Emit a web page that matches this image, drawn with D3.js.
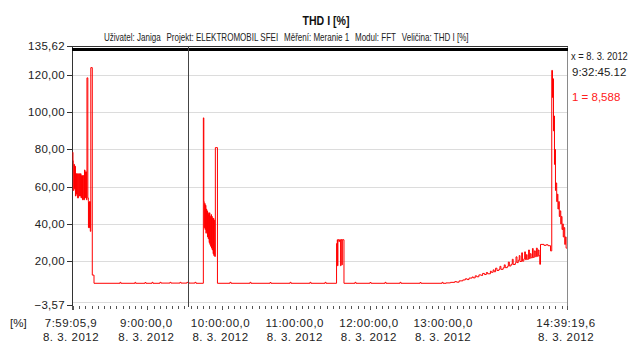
<!DOCTYPE html>
<html><head><meta charset="utf-8">
<script src="https://cdn.jsdelivr.net/npm/d3@7"></script>
<style>
html,body{margin:0;padding:0;background:#fff;}
svg{display:block;font-family:"Liberation Sans",Arial,sans-serif;}
</style></head><body>
<svg id="chart" width="629" height="342"></svg>
<script>
// ---- chart texts ----
const chartTitle = "THD I [%]";
const infoParts = ["Uživatel: Janiga", "Projekt: ELEKTROMOBIL SFEI", "Měření: Meranie 1", "Modul: FFT", "Veličina: THD I [%]"];
const unitLabel = "[%]";

// ---- time range of the record (8. 3. 2012) ----
const recordStart = new Date(2012, 2, 8, 7, 59, 5, 900);
const recordEnd = new Date(2012, 2, 8, 14, 39, 19, 600);
const hourTicks = [9, 10, 11, 12, 13];

// ---- value axis ----
const yMin = -3.57, yMax = 135.62;
const yTicks = [120, 100, 80, 60, 40, 20];

// ---- cursor readout ----
const cursorTime = new Date(2012, 2, 8, 9, 32, 45, 120);
const cursorX = "x = 8. 3. 2012";
const cursorClock = "9:32:45.12";
const cursorValue = 8.588;

// ---- THD I samples: [minutes since record start, THD %] ----
const startBurst = [
  [0.5,78.5],[0.8,74],[1.05,58],[1.6,72],[2.0,59],[2.4,71],[2.8,55],[3.2,67],[3.6,56],[4.0,67],
  [4.4,54],[5.3,67],[6.1,55],[6.9,67],[7.3,54],[7.7,66],[8.5,53],[8.9,66],[9.4,53],[10.1,69],
  [10.5,54],[10.9,68],[11.7,53],[12.1,118.5],[12.8,54],[13.2,52],[13.3,38],[13.7,52],[14.1,38],
  [14.6,52],[14.8,36],[15.2,124],[16.4,12.5]
];
const idleMorning = [
  [17.8,8.1],[38.8,8.6],[39.5,8.1],[50.9,8.6],[51.5,8.1],[59.0,8.5],[59.8,8.1],[64.7,8.6],
  [65.5,8.1],[71.1,8.6],[72.0,8.2],[79.2,8.6],[80.0,8.2],[87.3,8.6],[88.1,8.2],[92.9,8.588],
  [94.5,8.2],[99.4,8.6],[100.3,8.1]
];
const secondBurst = [
  [106.2,97],[106.6,52],[106.9,38],[107.3,51],[107.6,37],[107.9,50],[108.3,35],[108.6,48],
  [108.9,36],[109.2,47],[109.6,33],[109.9,46],[110.2,32],[110.5,45],[110.9,30],[111.2,46],
  [111.5,29],[111.8,44],[112.1,28],[112.5,45],[112.8,27],[113.1,44],[113.4,26],[113.8,43],
  [114.1,24],[114.4,43],[114.7,23],[115.0,42],[115.4,22.5],[115.9,81]
];
const idleMidday = [
  [117.6,8.1],[127.7,8.6],[128.6,8.1],[143.9,8.6],[144.7,8.1],[160.1,8.5],[160.9,8.1],
  [176.3,8.6],[177.1,8.1],[192.4,8.6],[193.2,8.1],[204.6,8.6],[205.4,8.1]
];
const shortBurst = [
  [213.9,29.5],[214.5,31.5],[214.7,17.5],[215.0,31.5],[215.8,30.5],[216.3,31.5],[217.2,17.5],
  [217.5,31.5],[218.3,18],[218.5,31.5]
];
const idleAfternoon = [
  [219.9,8.1],[228.8,8.6],[229.6,8.1],[240.9,8.5],[241.8,8.1],[253.1,8.6],[253.9,8.1],
  [265.2,8.6],[266.0,8.1],[281.4,8.5],[282.2,8.1],[299.2,8.6],[300.0,8.1]
];
const chargingRamp = [
  [302.4,8.3],[306.0,8.6],[309.5,9.0],[311.0,8.7],[313.0,9.4],[316.0,9.9],[318.0,10.5],[319.5,10.1],
  [321.0,10.9],[323.5,11.5],[324.5,11.0],[326.0,12.1],[327.2,11.6],[329.0,12.6],[331.0,12.3],
  [332.0,13.4],[333.5,12.8],[335.0,13.9],[336.0,13.2],[338.3,14.6],[339.0,14.0],[340.5,15.3],
  [341.3,14.3],[342.5,16.2],[343.6,15.0],[345.2,15.6],[346.0,17.2],[346.8,15.6],[348.6,16.4],
  [349.5,18.0],[350.3,16.5],[352.0,17.2],[352.8,19.5],[353.6,17.4],[355.0,18.3],[356.0,21.0],
  [356.7,18.2],[358.4,19.0],[359.0,22.3],[359.8,19.2],[360.8,20.5],[361.6,23.0],[362.2,19.8],
  [363.6,24.5],[364.2,20.0],[365.3,21.2],[366.0,25.0],[366.6,20.8],[367.4,23.5],[368.0,21.0],
  [369.2,26.0],[369.8,21.4],[370.5,24.0],[371.2,21.8],[372.3,26.8],[372.9,22.0],[373.8,25.5],
  [374.6,22.4],[375.5,27.0],[376.2,22.6],[377.0,26.0],[377.6,23.0],[378.2,18.3],[378.8,29.0],
  [381.6,28.5],[383.3,28.8],[384.9,28.3],[386.9,25.5]
];
const finalBurst = [
  [387.9,122.5],[388.5,108],[388.9,118],[389.3,90],[389.7,98],[390.1,72],[390.5,80],[390.9,58],
  [391.3,62],[391.9,52],[392.4,56],[392.9,48],[393.5,52],[394.0,44],[394.6,47],[395.2,40],
  [395.6,44],[396.2,37],[396.8,40],[397.2,33],[397.8,38],[398.4,29],[398.9,33],[399.5,27],[400.2,27]
];

const samples = [].concat(startBurst, idleMorning, secondBurst, idleMidday, shortBurst,
  idleAfternoon, chargingRamp, finalBurst)
  .map(([m, v]) => ({ t: new Date(+recordStart + m * 60000), v }));

// ---- layout ----
const plot = { left: 72, right: 567, top: 46, bottom: 305 };
const svg = d3.select("#chart");

const x = d3.scaleTime().domain([recordStart, recordEnd]).range([plot.left, plot.right]);
const y = d3.scaleLinear().domain([yMin, yMax]).range([plot.bottom, plot.top]);

const comma = v => d3.format(".2f")(v).replace(".", ",");
const textCol = "#222";

// titles
svg.append("text").attr("x", 326).attr("y", 25).attr("text-anchor", "middle")
  .attr("font-size", 13).attr("font-weight", "bold").attr("fill", "#111")
  .attr("textLength", 47).attr("lengthAdjust", "spacingAndGlyphs").text(chartTitle);

// info line: narrow face, parts laid out left to right with a fixed gap
const infoScale = 0.73;
const info = svg.append("g").attr("font-size", 11).attr("fill", textCol)
  .attr("transform", `translate(104,41) scale(${infoScale},1)`);
let ix = 0;
infoParts.forEach(p => {
  const t = info.append("text").attr("x", ix).attr("y", 0).text(p);
  ix += t.node().getComputedTextLength() + 8;
});

// horizontal grid
svg.append("g").selectAll("line").data(yTicks).join("line")
  .attr("x1", plot.left + 1).attr("x2", plot.right)
  .attr("y1", d => Math.round(y(d)) + 0.5).attr("y2", d => Math.round(y(d)) + 0.5)
  .attr("stroke", "#dcdcdc");
svg.append("line").attr("x1", plot.left + 1).attr("x2", plot.right)
  .attr("y1", plot.bottom - 3 + 0.5).attr("y2", plot.bottom - 3 + 0.5).attr("stroke", "#dcdcdc");

// frame
svg.append("line").attr("x1", plot.right + 0.5).attr("x2", plot.right + 0.5)
  .attr("y1", plot.top).attr("y2", plot.bottom + 2).attr("stroke", "#8a8a8a");
svg.append("line").attr("x1", plot.left + 0.5).attr("x2", plot.left + 0.5)
  .attr("y1", plot.top).attr("y2", plot.bottom + 2).attr("stroke", "#333");
svg.append("line").attr("x1", plot.left).attr("x2", plot.right + 1)
  .attr("y1", plot.top + 0.5).attr("y2", plot.top + 0.5).attr("stroke", "#333");
svg.append("rect").attr("x", plot.left).attr("y", plot.top + 2).attr("width", plot.right - plot.left + 1)
  .attr("height", 3).attr("fill", "#000");

// y axis ticks and labels
const yLabelVals = [yMax, ...yTicks, yMin];
const yg = svg.append("g");
yg.selectAll("line").data(yLabelVals).join("line")
  .attr("x1", plot.left - 5).attr("x2", plot.left)
  .attr("y1", d => Math.round(y(d)) + 0.5).attr("y2", d => Math.round(y(d)) + 0.5)
  .attr("stroke", "#333");
yg.selectAll("text").data(yLabelVals).join("text")
  .attr("x", plot.left - 7).attr("y", d => Math.round(y(d)) + 4)
  .attr("text-anchor", "end").attr("font-size", 11.5).attr("fill", textCol)
  .attr("letter-spacing", 0.3).text(comma);

// x axis ticks
const minor = d3.timeMinute.every(5).range(recordStart, recordEnd);
const xg = svg.append("g");
xg.selectAll("line.minor").data(minor).join("line").attr("class", "minor")
  .attr("x1", d => Math.round(x(d)) + 0.5).attr("x2", d => Math.round(x(d)) + 0.5)
  .attr("y1", plot.bottom + 1).attr("y2", d => d.getMinutes() === 0 ? plot.bottom + 5 : plot.bottom + 4)
  .attr("stroke", "#555");
const labelTimes = [recordStart, ...hourTicks.map(h => new Date(2012, 2, 8, h, 0, 0, 0)), recordEnd];
xg.selectAll("line.major").data([recordStart, recordEnd]).join("line").attr("class", "major")
  .attr("x1", d => Math.round(x(d)) + 0.5).attr("x2", d => Math.round(x(d)) + 0.5)
  .attr("y1", plot.bottom + 1).attr("y2", plot.bottom + 5).attr("stroke", "#555");
const clock = d => `${d.getHours()}:${d3.timeFormat("%M:%S")(d)},${Math.floor(d.getMilliseconds() / 100)}`;
const dayFmt = d => `${d.getDate()}. ${d.getMonth() + 1}. ${d.getFullYear()}`;
xg.selectAll("text.clock").data(labelTimes).join("text").attr("class", "clock")
  .attr("x", d => x(d) - 1).attr("y", 327).attr("text-anchor", "middle")
  .attr("font-size", 11.5).attr("letter-spacing", 0.5).attr("fill", textCol).text(clock);
xg.selectAll("text.day").data(labelTimes).join("text").attr("class", "day")
  .attr("x", d => x(d) - 1).attr("y", 341).attr("text-anchor", "middle")
  .attr("font-size", 11.5).attr("letter-spacing", 0.5).attr("fill", textCol).text(dayFmt);
svg.append("text").attr("x", 10).attr("y", 327).attr("font-size", 11.5).attr("fill", textCol).text(unitLabel);

// THD I trace
svg.append("path").datum(samples)
  .attr("d", d3.line().x(d => x(d.t)).y(d => y(d.v)).curve(d3.curveStepAfter))
  .attr("fill", "none").attr("stroke", "#ff0000").attr("stroke-width", 1);

// cursor
const cx = Math.round(x(cursorTime)) + 0.5;
svg.append("line").attr("x1", cx).attr("x2", cx).attr("y1", plot.top).attr("y2", plot.bottom + 2)
  .attr("stroke", "#444");

// cursor readout
svg.append("text").attr("font-size", 11).attr("fill", textCol)
  .attr("transform", "translate(571,60) scale(0.85,1)").text(cursorX);
svg.append("text").attr("x", 572).attr("y", 76).attr("font-size", 11.5).attr("fill", textCol).text(cursorClock);
svg.append("text").attr("x", 572).attr("y", 101).attr("font-size", 11.5).attr("fill", "#ff2020")
  .text(`1 = ${d3.format(".3f")(cursorValue).replace(".", ",")}`);
</script>
</body></html>
